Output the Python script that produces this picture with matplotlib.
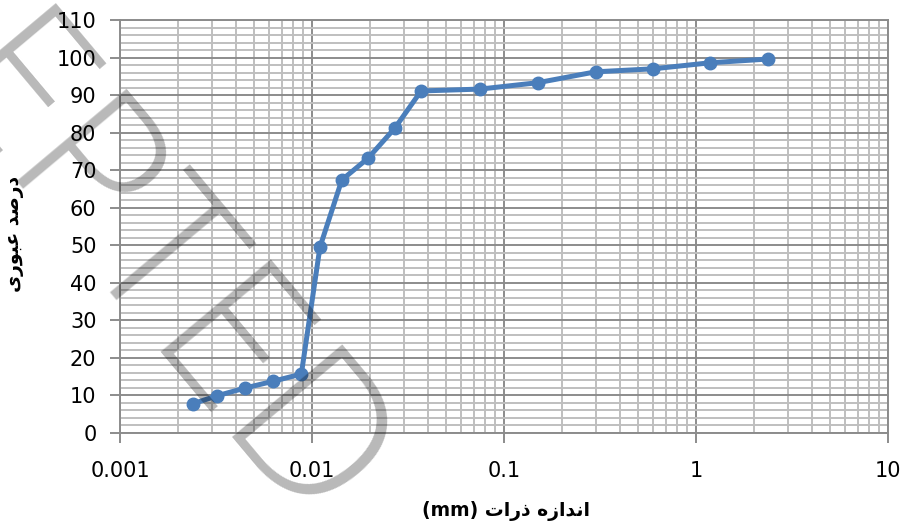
import numpy as np
import matplotlib.pyplot as plt
from matplotlib.ticker import LogLocator, FuncFormatter

# منحنی دانه‌بندی: اندازه ذرات (mm) و درصد عبوری
size_mm = [0.0024, 0.0032, 0.0045, 0.0063, 0.0088, 0.011, 0.0143, 0.0196,
           0.027, 0.037, 0.075, 0.15, 0.3, 0.6, 1.18, 2.36]
passing = [7.8, 9.9, 12.0, 13.8, 15.7, 49.5, 67.4, 73.2,
           81.2, 91.1, 91.6, 93.3, 96.2, 97.0, 98.6, 99.6]

x_ticks = [0.001, 0.01, 0.1, 1, 10]
x_tick_labels = ['0.001', '0.01', '0.1', '1', '10']
y_ticks = list(range(0, 111, 10))

# برچسب‌ها با حروف نمایشی عربی، به ترتیب دیداری چپ به راست
xlabel = '(mm) \ufe95\ufe8d\ufead\ufeab \ufee9\ufeaf\ufe8d\ufeaa\ufee7\ufe8d'
ylabel = '\ufbfc\ufead\ufeee\ufe92\ufecb \ufeaa\ufebb\ufead\ufea9'

fig = plt.figure(figsize=(9.02, 5.24), dpi=100)
ax = fig.add_axes([120/902, 1-433/524, 768/902, 413/524])

ax.plot(size_mm, passing, color='#4a7ebb', lw=3.6, marker='o', ms=9,
        zorder=3, clip_on=False)

ax.set_xscale('log')
ax.set_xlim(0.001, 10)
ax.set_ylim(0, 110)

ax.set_xticks(x_ticks)
ax.set_xticklabels(x_tick_labels)
ax.xaxis.set_minor_locator(LogLocator(base=10, subs=np.arange(2, 10)))
ax.xaxis.set_minor_formatter(FuncFormatter(lambda v, p: ''))
ax.set_yticks(y_ticks)
ax.set_yticks(np.arange(0, 111, 2), minor=True)

ax.grid(True, which='minor', color='#bfbfbf', lw=1.4, zorder=0)
ax.grid(True, which='major', color='#8c8c8c', lw=1.4, zorder=1)
ax.set_axisbelow(True)

for s in ax.spines.values():
    s.set_color('#8c8c8c')
    s.set_linewidth(1.4)

ax.tick_params(which='major', length=7, width=1.4, color='#8c8c8c',
               labelsize=15)
ax.tick_params(axis='y', pad=10)
ax.tick_params(axis='x', pad=13)
ax.tick_params(which='minor', length=0)

fig.text(506/902, 1-511/524, xlabel, ha='center', va='center',
         fontsize=13.5, fontweight='bold', family=['DejaVu Sans'])
fig.text(15/902, 1-234/524, ylabel, ha='center', va='center', rotation=90,
         fontsize=13.5, fontweight='bold', family=['DejaVu Sans'])

# مهر کم‌رنگ روی نمودار
fig.text(310/902, 1-530/524, 'ACCEPTED', rotation=-50, rotation_mode='anchor',
         ha='right', va='baseline', fontsize=145, family='Open Sans',
         fontweight='light', color='black', alpha=0.28, zorder=10)

fig.savefig('out.png', dpi=100)
